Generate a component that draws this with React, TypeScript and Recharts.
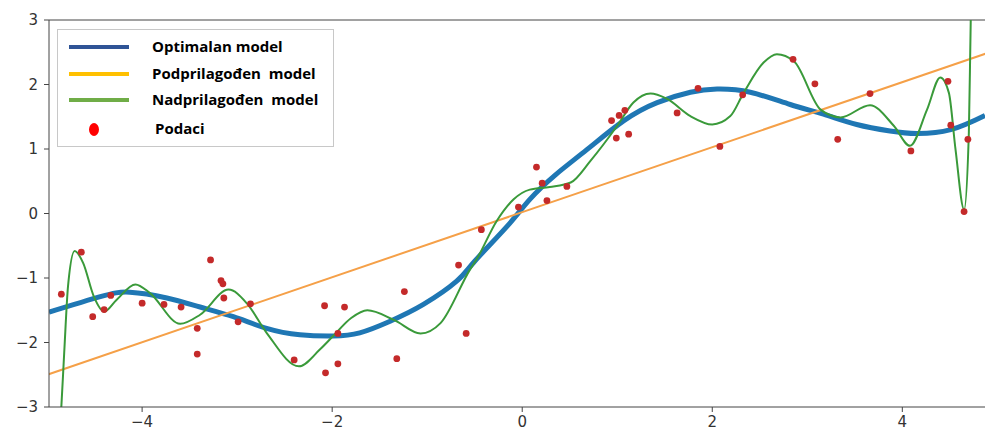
import React from 'react'
import {
  ComposedChart, Line, Scatter, XAxis, YAxis, ReferenceLine,
} from 'recharts'

// optimalni model (glatka krivulja)
const optX = [-4.98, -4.44, -4.13, -3.74, -3.39, -3.04, -2.69, -2.34, -1.99, -1.71, -1.39, -1.04, -0.69, -0.5, -0.16, 0.08, 0.35, 0.68, 1.07, 1.42, 1.77, 2.05, 2.4, 2.82, 3.17, 3.52, 3.87, 4.15, 4.51, 4.87]
const optY = [-1.53, -1.29, -1.22, -1.31, -1.45, -1.6, -1.78, -1.88, -1.9, -1.85, -1.67, -1.41, -1.05, -0.74, -0.2, 0.22, 0.6, 0.99, 1.44, 1.72, 1.88, 1.93, 1.88, 1.69, 1.54, 1.38, 1.28, 1.24, 1.3, 1.52]

// podprilagođen model (pravac)
const underX = [-5.0, 4.9]
const underY = [-2.5, 2.49]

// nadprilagođen model
const overX = [-4.92, -4.85, -4.82, -4.78, -4.71, -4.62, -4.51, -4.4, -4.27, -4.07, -3.92, -3.6, -3.39, -3.09, -2.9, -2.69, -2.35, -2.13, -1.99, -1.8, -1.63, -1.35, -1.07, -0.86, -0.55, -0.48, -0.27, -0.09, 0.08, 0.29, 0.51, 0.72, 1.0, 1.17, 1.35, 1.52, 1.77, 2.0, 2.19, 2.33, 2.54, 2.68, 2.86, 3.14, 3.35, 3.66, 3.91, 4.08, 4.26, 4.4, 4.49, 4.56, 4.65, 4.7, 4.72, 4.75]
const overY = [-4.2, -2.99, -2.16, -1.13, -0.58, -0.77, -1.28, -1.52, -1.34, -1.1, -1.23, -1.71, -1.57, -1.18, -1.39, -1.85, -2.37, -2.11, -1.9, -1.62, -1.5, -1.65, -1.86, -1.7, -0.87, -0.71, -0.12, 0.22, 0.37, 0.41, 0.48, 0.82, 1.36, 1.72, 1.86, 1.78, 1.51, 1.38, 1.51, 1.87, 2.34, 2.47, 2.36, 1.61, 1.49, 1.68, 1.36, 1.05, 1.61, 2.11, 1.87, 0.99, 0.06, 1.25, 3.0, 4.5]

// podaci
const dataX = [-4.85, -4.64, -4.52, -4.4, -4.33, -4.0, -3.77, -3.59, -3.42, -3.42, -3.28, -3.17, -3.15, -3.14, -2.99, -2.86, -2.4, -2.08, -2.07, -1.94, -1.94, -1.87, -1.32, -1.24, -0.67, -0.59, -0.43, -0.04, 0.15, 0.21, 0.26, 0.47, 0.94, 0.99, 1.02, 1.08, 1.12, 1.63, 1.85, 2.08, 2.32, 2.85, 3.08, 3.32, 3.66, 4.09, 4.48, 4.51, 4.65, 4.69]
const dataY = [-1.25, -0.6, -1.6, -1.49, -1.27, -1.39, -1.41, -1.45, -1.78, -2.18, -0.72, -1.04, -1.09, -1.31, -1.68, -1.4, -2.27, -1.43, -2.47, -1.86, -2.33, -1.45, -2.25, -1.21, -0.8, -1.86, -0.25, 0.1, 0.72, 0.47, 0.2, 0.42, 1.44, 1.17, 1.52, 1.6, 1.23, 1.56, 1.94, 1.04, 1.84, 2.39, 2.01, 1.15, 1.86, 0.97, 2.05, 1.37, 0.03, 1.15]

const xTicks = [-4, -2, 0, 2, 4]
const yTicks = [-3, -2, -1, 0, 1, 2, 3]

const legendItems = [
  { label: 'Optimalan model', color: '#2f5496', kind: 'line' },
  { label: 'Podprilagođen  model', color: '#ffc000', kind: 'line' },
  { label: 'Nadprilagođen  model', color: '#70ad47', kind: 'line' },
  { label: 'Podaci', color: '#ff0000', kind: 'dot' },
]

const zip = (xs: number[], ys: number[]) => xs.map((x, i) => ({ x, y: ys[i] }))

const fmt = (v: number) => (v < 0 ? `\u2212${Math.abs(v)}` : `${v}`)

const tickStyle = { fontSize: 15, fill: '#333', fontFamily: 'DejaVu Sans' }

function LegendBox() {
  const rows = [46, 73, 99, 128]
  return (
    <div
      style={{
        position: 'absolute', left: 57, top: 29, width: 277, height: 118, background: '#fff',
        border: '1px solid #c8c8c8', boxSizing: 'border-box',
        fontFamily: 'Open Sans', fontWeight: 700, fontSize: 15, color: '#000',
      }}
    >
      {legendItems.map((it, i) => {
        const cy = rows[i] - 29
        return (
          <React.Fragment key={it.label}>
            {it.kind === 'line' ? (
              <div style={{ position: 'absolute', left: 11, top: cy - 2, width: 60, height: 4, background: it.color }} />
            ) : (
              <div style={{ position: 'absolute', left: 31, top: cy - 6, width: 10, height: 13, borderRadius: '50%', background: it.color }} />
            )}
            <div style={{ position: 'absolute', left: it.kind === 'dot' ? 97 : 94, top: cy - 11, lineHeight: '20px', whiteSpace: 'pre' }}>
              {it.label}
            </div>
          </React.Fragment>
        )
      })}
    </div>
  )
}

const Dot = (p: any) => <circle cx={p.cx} cy={p.cy} r={3.4} fill="#c42a2a" />

export default function App() {
  return (
    <div style={{ position: 'absolute', left: 0, top: 0, width: 985, height: 434, background: '#fff' }}>
      <ComposedChart width={985} height={434} margin={{ top: 20, right: 0, bottom: 0, left: 0 }}>
        <XAxis
          dataKey="x" type="number" domain={[-4.98, 4.87]} allowDataOverflow
          ticks={xTicks} tickFormatter={fmt} height={27} tickSize={5} tickMargin={4}
          stroke="#444" tick={tickStyle}
        />
        <YAxis
          dataKey="y" type="number" domain={[-3, 3]} allowDataOverflow
          ticks={yTicks} tickFormatter={fmt} width={49} tickSize={5} tickMargin={6}
          stroke="#444" tick={tickStyle}
        />
        <ReferenceLine y={3} stroke="#444" />
        <Line
          data={zip(optX, optY)} dataKey="y" type="natural" stroke="#1f77b4"
          strokeWidth={5} dot={false} isAnimationActive={false}
        />
        <Line
          data={zip(underX, underY)} dataKey="y" type="linear" stroke="#f5a048"
          strokeWidth={2} dot={false} isAnimationActive={false}
        />
        <Line
          data={zip(overX, overY)} dataKey="y" type="monotone" stroke="#3a9a3a"
          strokeWidth={2} dot={false} isAnimationActive={false}
        />
        <Scatter data={zip(dataX, dataY)} dataKey="y" shape={Dot} isAnimationActive={false} />
      </ComposedChart>
      <LegendBox />
    </div>
  )
}
